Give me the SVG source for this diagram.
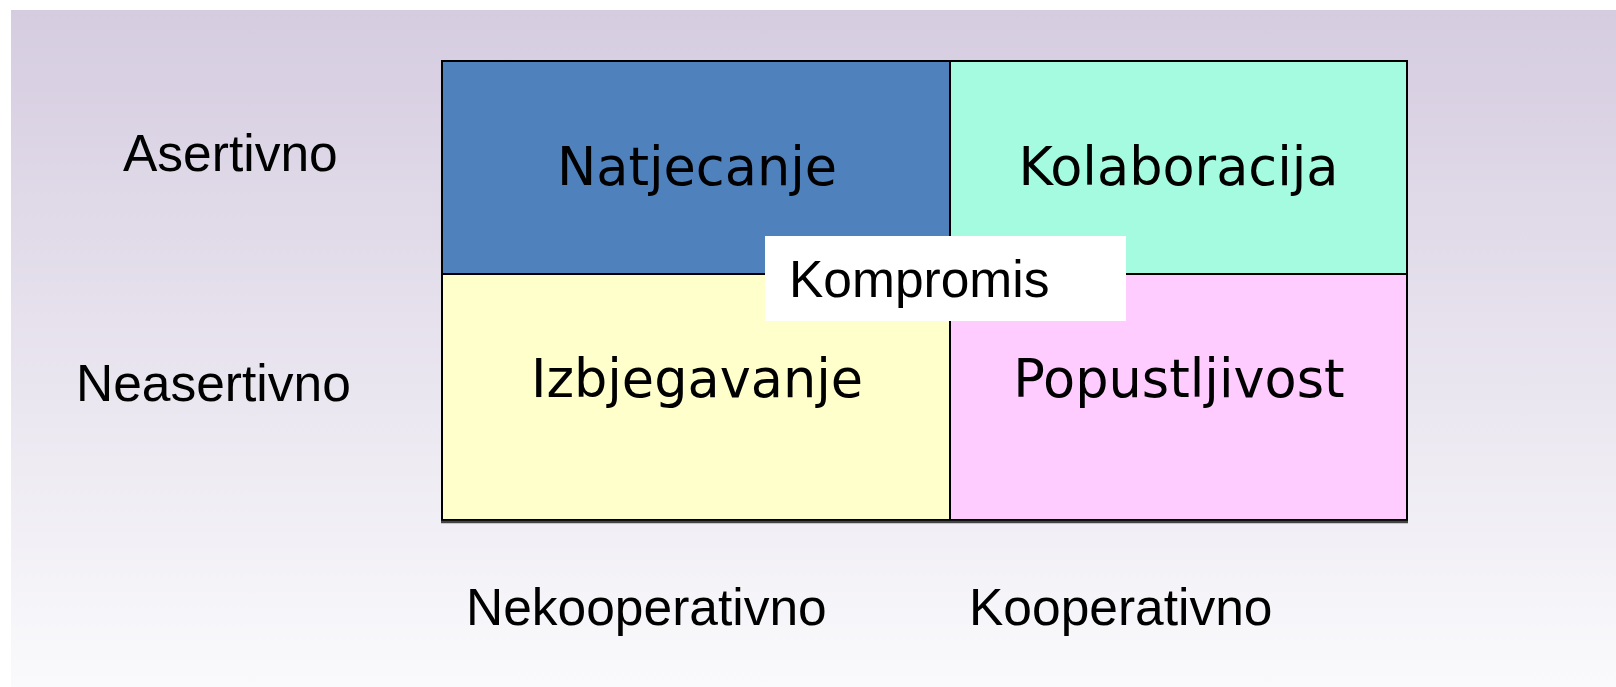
<svg xmlns="http://www.w3.org/2000/svg" width="1616" height="687" viewBox="0 0 1616 687">
  <defs>
    <linearGradient id="bg" x1="0" y1="0" x2="0" y2="1">
      <stop offset="0" stop-color="#d5cce0"/>
      <stop offset="1" stop-color="#fafafc"/>
    </linearGradient>
  </defs>
  <style>
    .axis { font-family: "Liberation Sans", Arial, sans-serif; font-size: 51.5px; fill: #000; }
    .cell-label { font-family: "DejaVu Sans", Verdana, sans-serif; font-size: 52.5px; fill: #000; text-anchor: middle; }
    .cell { stroke: #000; stroke-width: 2; }
  </style>

  <!-- page background -->
  <rect x="0" y="0" width="1616" height="687" fill="#ffffff"/>
  <rect x="11" y="10" width="1605" height="677" fill="url(#bg)"/>

  <!-- axis labels -->
  <g id="axis-labels">
    <text class="axis" x="123" y="171">Asertivno</text>
    <text class="axis" x="76" y="401">Neasertivno</text>
    <text class="axis" x="466" y="625">Nekooperativno</text>
    <text class="axis" x="969" y="625">Kooperativno</text>
  </g>

  <!-- quadrants -->
  <g id="natjecanje">
    <rect class="cell" x="442" y="61" width="508" height="213" fill="#4f81bd"/>
    <text class="cell-label" x="697" y="185">Natjecanje</text>
  </g>
  <g id="kolaboracija">
    <rect class="cell" x="950" y="61" width="457" height="213" fill="#a4fbdf"/>
    <text class="cell-label" x="1178.5" y="185">Kolaboracija</text>
  </g>
  <g id="izbjegavanje">
    <rect class="cell" x="442" y="274" width="508" height="246" fill="#ffffcc"/>
    <text class="cell-label" x="697" y="397">Izbjegavanje</text>
  </g>
  <g id="popustljivost">
    <rect class="cell" x="950" y="274" width="457" height="246" fill="#ffccff"/>
    <text class="cell-label" x="1179" y="397">Popustljivost</text>
  </g>

  <!-- heavier base line under the grid -->
  <g id="base-line">
    <line x1="441" y1="522" x2="1408" y2="522" stroke="#444" stroke-width="2.5"/>
  </g>

  <!-- centre label -->
  <g id="kompromis">
    <rect x="765" y="236" width="361" height="85" fill="#ffffff"/>
    <text class="axis" x="789" y="297">Kompromis</text>
  </g>
</svg>
